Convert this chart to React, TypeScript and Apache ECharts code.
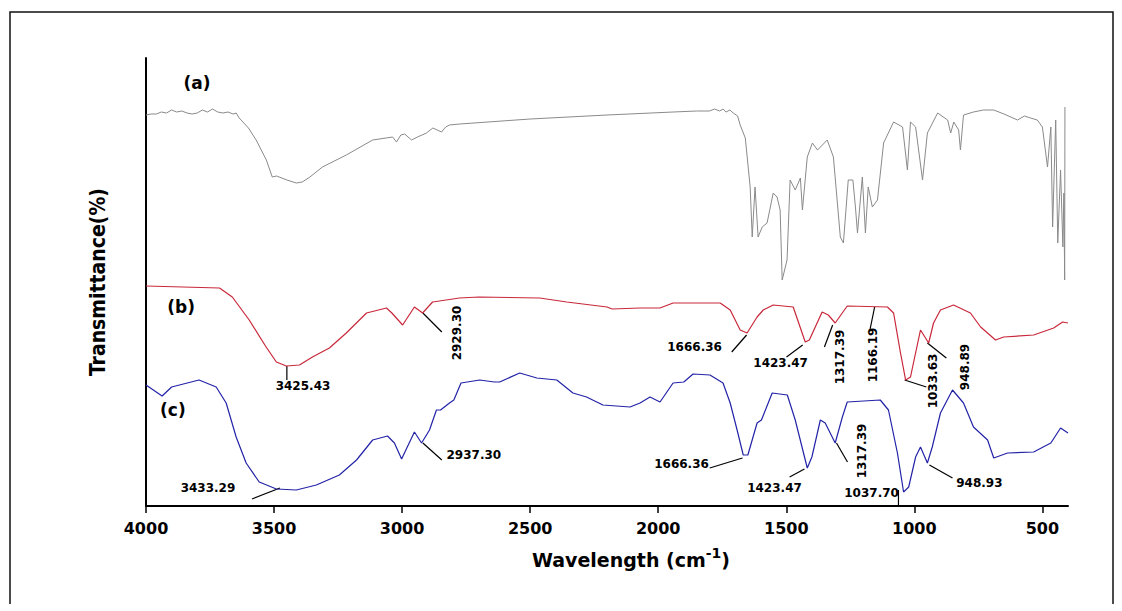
import { useEffect, useRef } from "react";
import * as echarts from "echarts";

// x ticks (wavenumber, cm-1)
const tickValues = [4000, 3500, 3000, 2500, 2000, 1500, 1000, 500];

// (a) grey spectrum [wavenumber, transmittance offset]
const spectrumA: [number, number][] = [
  [4000, 97.75], [3980, 98], [3960, 98], [3940, 98.5], [3920, 98.25], [3900, 99], [3880, 98.5], [3860, 98.75],
  [3840, 98.25], [3820, 98], [3800, 98.25], [3780, 99], [3760, 98.5], [3740, 99.25], [3720, 98.5], [3700, 98.25],
  [3680, 98.5], [3660, 98], [3648, 98.25], [3636, 97], [3600, 94.5], [3570, 91.5], [3530, 86.5], [3507, 82.25],
  [3490, 82.5], [3480, 82.25], [3450, 81.5], [3413, 80.75], [3390, 81], [3360, 82.25], [3311, 84.75], [3218, 87.75],
  [3115, 91.5], [3037, 92.25], [3022, 91], [3005, 92.75], [2990, 93], [2963, 91.5], [2940, 92.25], [2905, 93.25],
  [2880, 94.5], [2846, 93.5], [2830, 94.75], [2815, 95.25], [2775, 95.5], [2500, 96.75], [2200, 97.75], [1942, 98.5],
  [1850, 98.75], [1800, 98.75], [1780, 99.25], [1760, 98.75], [1747, 99.25], [1735, 98.5], [1720, 99], [1707, 98.25],
  [1690, 97.5], [1680, 95.25], [1660, 92], [1641, 79.75], [1633, 67.25], [1622, 79.75], [1610, 67.25], [1594, 69.75],
  [1575, 70.75], [1551, 78.25], [1536, 77.25], [1524, 74], [1516, 56.5], [1497, 61.5], [1485, 81.5], [1465, 79],
  [1445, 82], [1437, 74], [1418, 87.25], [1398, 90.75], [1378, 89], [1340, 91.5], [1316, 87.25], [1289, 67.25],
  [1277, 65.75], [1258, 81.5], [1240, 81.5], [1230, 74.75], [1222, 68.25], [1203, 82.25], [1191, 68.25], [1180, 79.75],
  [1164, 74.75], [1144, 76.5], [1120, 90.75], [1081, 96], [1046, 94.75], [1027, 84], [1015, 96], [995, 94.75],
  [968, 81.5], [949, 93.25], [909, 98.25], [870, 96.5], [858, 93.25], [846, 96], [827, 94], [820, 89],
  [808, 97.75], [769, 98.5], [730, 99], [690, 99], [650, 98], [597, 96.5], [570, 97.5], [546, 97],
  [520, 96.5], [500, 94.75], [480, 84.75], [467, 94.75], [460, 69.75], [448, 96.5], [440, 65.75], [429, 84],
  [420, 64.75], [416, 78.25], [413, 56.5], [412, 99.75],
];

// (b) red spectrum
const spectrumB: [number, number][] = [
  [4000, 55], [3713, 54.5], [3663, 52.25], [3597, 46.5], [3531, 39.75], [3491, 36], [3452, 35], [3401, 35.25],
  [3350, 37.25], [3284, 39.5], [3218, 43.25], [3139, 48.25], [3061, 49.5], [3040, 48.25], [2998, 45.25], [2952, 49.75],
  [2920, 48.25], [2881, 51], [2776, 52], [2700, 52.25], [2463, 52], [2357, 51], [2200, 49.75], [2180, 49.25],
  [2071, 49.5], [1993, 49.5], [1942, 50.75], [1758, 50.75], [1719, 49], [1680, 44], [1653, 43.25], [1614, 47.25],
  [1590, 49], [1551, 50.25], [1473, 49.75], [1426, 41], [1410, 41.5], [1360, 48.5], [1336, 47.75], [1309, 45.75],
  [1262, 50], [1105, 49.75], [1081, 48.25], [1054, 38.25], [1034, 31.5], [1015, 32.25], [976, 44], [944, 40.75],
  [925, 45.75], [898, 49], [847, 50.25], [781, 48.25], [741, 44.75], [683, 41.5], [651, 42.25], [534, 42.75],
  [456, 44.5], [421, 46], [400, 45.75],
];

// (c) blue spectrum
const spectrumC: [number, number][] = [
  [4000, 30.25], [3937, 27.5], [3900, 29.75], [3793, 31.5], [3726, 29.75], [3687, 25.75], [3648, 17.25], [3609, 10.75],
  [3558, 6], [3491, 4.25], [3413, 4], [3335, 5.25], [3245, 7.75], [3178, 11.5], [3115, 16.5], [3057, 17.5],
  [3030, 15.75], [3002, 11.75], [2952, 18.5], [2924, 15.75], [2893, 19], [2866, 24], [2850, 24], [2815, 25.75],
  [2798, 26.5], [2770, 30.75], [2697, 31.5], [2640, 31], [2619, 31], [2541, 33.25], [2474, 32], [2396, 31.5],
  [2333, 28.25], [2280, 27.25], [2216, 25.25], [2110, 24.75], [2071, 25.75], [2032, 27.25], [1993, 26], [1942, 30.75],
  [1900, 31], [1864, 33], [1798, 32.75], [1747, 30.75], [1719, 25.75], [1692, 19], [1668, 12.75], [1650, 12.75],
  [1614, 20.75], [1597, 21.5], [1555, 28.25], [1496, 27.75], [1465, 21.5], [1418, 9.5], [1400, 12.25], [1367, 21.5],
  [1348, 20.75], [1309, 15.75], [1281, 22.25], [1262, 26], [1133, 26.5], [1101, 24], [1066, 13.25], [1042, 3.5],
  [1022, 4.75], [995, 12.25], [976, 14.75], [949, 10.75], [930, 14.75], [898, 23.25], [851, 29], [808, 25.75],
  [769, 19.75], [714, 16.5], [690, 12], [636, 13.25], [534, 13.5], [467, 15.75], [429, 19.5], [400, 18.25],
];

// panel letters [text, wavenumber, level]
const panelLabels: [string, number, number][] = [
  ["(a)", 3801, 105.75],
  ["(b)", 3863, 49.75],
  ["(c)", 3895, 24],
];

// peak annotations: text, label centre (wn, level), vertical?, leader line (wn1, lv1, wn2, lv2)
type Peak = { text: string; at: [number, number]; vertical: boolean; line: [number, number, number, number] };
const peaksB: Peak[] = [
  { text: "3425.43", at: [3387, 30], vertical: false, line: [3450, 35, 3450, 31.5] },
  { text: "2929.30", at: [2786, 43.25], vertical: true, line: [2919, 48.25, 2845, 43.5] },
  { text: "1666.36", at: [1858, 39.75], vertical: false, line: [1713, 38.5, 1655, 42.75] },
  { text: "1423.47", at: [1522, 35.75], vertical: false, line: [1499, 37.25, 1436, 40.25] },
  { text: "1317.39", at: [1292, 37.25], vertical: true, line: [1351, 39.75, 1319, 45.25] },
  { text: "1166.19", at: [1163, 37.75], vertical: true, line: [1155, 49.75, 1175, 43.5] },
  { text: "1033.63", at: [929, 31.25], vertical: true, line: [1038, 31.5, 953, 29.75] },
  { text: "948.89", at: [804, 34.75], vertical: true, line: [949, 40.75, 875, 37] },
];
const peaksC: Peak[] = [
  { text: "3433.29", at: [3758, 4.5], vertical: false, line: [3586, 1.75, 3477, 4.5] },
  { text: "2937.30", at: [2720, 12.75], vertical: false, line: [2919, 15.75, 2845, 11.5] },
  { text: "1666.36", at: [1909, 10.5], vertical: false, line: [1799, 9.5, 1671, 12] },
  { text: "1423.47", at: [1546, 4.5], vertical: false, line: [1487, 7.25, 1429, 9.25] },
  { text: "1317.39", at: [1206, 13.75], vertical: true, line: [1304, 15.75, 1261, 11] },
  { text: "1037.70", at: [1167, 3.25], vertical: false, line: [1062, 4, 1062, -0.25] },
  { text: "948.93", at: [746, 5.75], vertical: false, line: [941, 10.25, 851, 7] },
];

const FONT_C = "'DejaVu Sans Condensed', 'DejaVu Sans', sans-serif";
const FONT = "'DejaVu Sans', sans-serif";

export default function App() {
  const ref = useRef<HTMLDivElement>(null);

  useEffect(() => {
    const chart = echarts.init(ref.current!, null, { renderer: "svg" });
    const lineSeries = (name: string, data: [number, number][], color: string, width: number) => ({
      name,
      type: "line",
      data,
      showSymbol: false,
      symbol: "none",
      smooth: false,
      clip: false,
      lineStyle: { color, width },
      emphasis: { disabled: true },
    });

    chart.setOption({
      animation: false,
      backgroundColor: "#ffffff",
      grid: { left: 146, right: 54, top: 58, bottom: 105 },
      xAxis: {
        type: "value",
        min: 400,
        max: 4000,
        inverse: true,
        name: "{a|Wavelength (cm}{s|-1}{a|)}",
        nameLocation: "middle",
        nameGap: 40,
        nameTextStyle: {
          padding: [0, 0, 0, 48],
          rich: {
            a: { fontFamily: FONT, fontWeight: "bold", fontSize: 19, color: "#000" },
            s: { fontFamily: FONT, fontWeight: "bold", fontSize: 14, color: "#000", padding: [0, 0, 14, 0] },
          },
        },
        axisLine: { show: true, onZero: false, lineStyle: { color: "#000", width: 2 } },
        axisTick: { show: true, inside: false, length: 7, customValues: tickValues, lineStyle: { color: "#000", width: 1.5 } },
        axisLabel: {
          show: true,
          customValues: tickValues,
          margin: 14,
          formatter: (v: number) => String(v),
          fontFamily: FONT,
          fontWeight: "bold",
          fontSize: 16,
          color: "#000",
        },
        splitLine: { show: false },
      },
      yAxis: {
        type: "value",
        min: 0,
        max: 112,
        name: "Transmittance(%)",
        nameLocation: "middle",
        nameRotate: 90,
        nameGap: 38,
        nameTextStyle: { fontFamily: FONT_C, fontWeight: "bold", fontSize: 21, color: "#000" },
        axisLine: { show: true, lineStyle: { color: "#000", width: 2 } },
        axisTick: { show: false },
        axisLabel: { show: false },
        splitLine: { show: false },
      },
      series: [
        lineSeries("(a)", spectrumA, "#8a8a8a", 1),
        lineSeries("(b)", spectrumB, "#c8283a", 1.2),
        lineSeries("(c)", spectrumC, "#2323a8", 1.2),
      ],
    });

    const toPx = (p: [number, number]) => chart.convertToPixel({ gridIndex: 0 }, p) as number[];
    const graphics: any[] = [
      {
        type: "polyline",
        shape: { points: [[10, 604], [10, 12], [1113, 12], [1113, 604]] },
        style: { stroke: "#111", lineWidth: 1.5, fill: "none" },
        silent: true,
      },
    ];
    panelLabels.forEach(([text, wn, lv]) => {
      const [x, y] = toPx([wn, lv]);
      graphics.push({
        type: "text",
        x,
        y,
        style: {
          text,
          fontFamily: FONT,
          fontWeight: "bold",
          fontSize: 17,
          fill: "#000",
          align: "center",
          verticalAlign: "middle",
          textAlign: "center",
          textVerticalAlign: "middle",
        },
      });
    });
    [...peaksB, ...peaksC].forEach((p) => {
      const [x1, y1] = toPx([p.line[0], p.line[1]]);
      const [x2, y2] = toPx([p.line[2], p.line[3]]);
      graphics.push({
        type: "line",
        shape: { x1, y1, x2, y2 },
        style: { stroke: "#000", lineWidth: 1.2 },
      });
      const [x, y] = toPx(p.at);
      graphics.push({
        type: "text",
        x,
        y,
        rotation: p.vertical ? Math.PI / 2 : 0,
        style: {
          text: p.text,
          fontFamily: FONT,
          fontWeight: "bold",
          fontSize: 12,
          fill: "#000",
          align: "center",
          verticalAlign: "middle",
          textAlign: "center",
          textVerticalAlign: "middle",
        },
      });
    });
    chart.setOption({ graphic: graphics });

    return () => chart.dispose();
  }, []);

  return (
    <div
      ref={ref}
      style={{ position: "fixed", left: 0, top: 0, width: 1122, height: 611, background: "#fff" }}
    />
  );
}
